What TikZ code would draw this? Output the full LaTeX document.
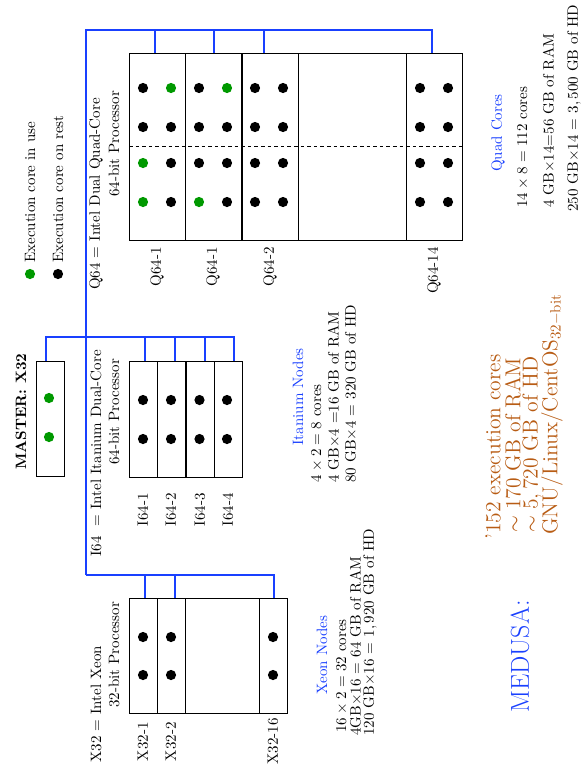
\documentclass[tikz,border=0pt]{standalone}
\usepackage{amsmath}
\definecolor{busblue}{rgb}{0.1,0.25,1}
\definecolor{usegreen}{rgb}{0,0.6,0}
\definecolor{sumorange}{rgb}{0.72,0.36,0.08}
\begin{document}
\begin{tikzpicture}[x=0.6667pt,y=-0.6667pt,
 box/.style={draw, line width=0.6pt, inner sep=0pt, outer sep=0pt},
 dotk/.style={circle, fill=black, inner sep=0pt, minimum size=6.8pt},
 dotg/.style={circle, fill=usegreen, inner sep=0pt, minimum size=6.8pt},
 bus/.style={draw=busblue, line width=1.3pt},
 txt/.style={rotate=90, inner sep=0pt, anchor=west},
 lbl/.style={rotate=90, inner sep=0pt, anchor=east},
 ctr/.style={rotate=90, inner sep=0pt, anchor=center}]
\useasboundingbox (0,0) rectangle (581,764);

% ---------- X32 boxes
\node[box, minimum width=18.67pt, minimum height=76.67pt] (x1) at (143,655.5) {};
\node[box, minimum width=18.67pt, minimum height=76.67pt] (x2) at (171,655.5) {};
\node[box, minimum width=49.33pt, minimum height=76.67pt] (xe) at (222,655.5) {};
\node[box, minimum width=18.67pt, minimum height=76.67pt] (x16) at (273,655.5) {};
\foreach \px [count=\i] in {143,171,273} {
  \node[dotk] (xa\i) at (\px,637) {};
  \node[dotk] (xb\i) at (\px,675) {};
}
% ---------- Master
\node[box, minimum width=18.67pt, minimum height=76.67pt] (m) at (50,418.5) {};
\node[dotg] (md1) at (49,398) {};
\node[dotg] (md2) at (49,437) {};
% ---------- I64 boxes
\node[box, minimum width=18.67pt, minimum height=77.33pt] (i1) at (143,419) {};
\node[box, minimum width=18.67pt, minimum height=77.33pt] (i2) at (171,419) {};
\node[box, minimum width=18.67pt, minimum height=77.33pt] (i3) at (200.5,419) {};
\node[box, minimum width=18.67pt, minimum height=77.33pt] (i4) at (228,419) {};
\foreach \px [count=\i] in {143,171,199.5,227} {
  \node[dotk] (ia\i) at (\px,400) {};
  \node[dotk] (ib\i) at (\px,439) {};
}
% ---------- Q64 boxes
\node[box, minimum width=37.33pt, minimum height=124.67pt] (q1) at (157,146.5) {};
\node[box, minimum width=37.33pt, minimum height=124.67pt] (q1b) at (213.5,146.5) {};
\node[box, minimum width=37.33pt, minimum height=124.67pt] (q2) at (270,146.5) {};
\node[box, minimum width=72pt, minimum height=124.67pt] (qe) at (352,146.5) {};
\node[box, minimum width=37.33pt, minimum height=124.67pt] (q14) at (434,146.5) {};
\draw[dash pattern=on 2.4pt off 2pt, line width=0.5pt] (q1.west) -- (q14.east);
% dots of Q64 (k = black, g = green)
\foreach \px/\py/\c [count=\i] in {
  143/88/dotk,171/88/dotg,143/127/dotk,171/127/dotk,143/163/dotg,171/163/dotk,143/202/dotg,171/202/dotk,
  199/88/dotk,227/88/dotg,199/127/dotk,227/127/dotk,199/163/dotk,227/163/dotk,199/202/dotg,227/202/dotk,
  255/88/dotk,283/88/dotk,255/127/dotk,283/127/dotk,255/163/dotk,283/163/dotk,255/202/dotk,283/202/dotk,
  420/88/dotk,448/88/dotk,420/127/dotk,448/127/dotk,420/163/dotk,448/163/dotk,420/202/dotk,448/202/dotk} {
  \node[\c] (qd\i) at (\px,\py) {};
}

% ---------- buses
\coordinate (busTop) at (86,30);
\coordinate (busBot) at (86,575);
\coordinate (busQR) at (432,30);
\coordinate (busXR) at (274,575);
\coordinate (busIL) at (46,337);
\coordinate (busIR) at (234,337);
\coordinate (qt1) at (155,30);
\coordinate (qt2) at (214,30);
\coordinate (qt3) at (264,30);
\coordinate (xt1) at (145,575);
\coordinate (xt2) at (175,575);
\coordinate (it1) at (145,337);
\coordinate (it2) at (175,337);
\coordinate (it3) at (205,337);
\draw[bus] (busBot) -- (busTop) -- (busQR) -- (busQR |- q14.north);
\draw[bus] (busBot) -- (busXR) -- (busXR |- x16.north);
\draw[bus] (busIL |- m.north) -- (busIL) -- (busIR) -- (busIR |- i4.north);
\draw[bus] (qt1) -- (qt1 |- q1.north);
\draw[bus] (qt2) -- (qt2 |- q1b.north);
\draw[bus] (qt3) -- (qt3 |- q2.north);
\draw[bus] (xt1) -- (xt1 |- x1.north);
\draw[bus] (xt2) -- (xt2 |- x2.north);
\draw[bus] (it1) -- (it1 |- i1.north);
\draw[bus] (it2) -- (it2 |- i2.north);
\draw[bus] (it3) -- (it3 |- i3.north);

% ---------- headings
\node[txt, font=\bfseries] (master) at (21,470) {MASTER: X32};
\node[txt] (hx1) at (96,763) {X32 = Intel Xeon};
\node[txt] (hx2) at (114,708) {32-bit Processor};
\node[txt] (hi1) at (96,557) {I64~~= Intel Itanium Dual-Core};
\node[txt] (hi2) at (114,465) {64-bit Processor};
\node[txt] (hq1) at (96,290) {Q64 = Intel Dual Quad-Core};
\node[txt] (hq2) at (114,197) {64-bit Processor};

% ---------- row labels
\node[lbl] (lx1) at (143,722) {X32-1};
\node[lbl] (lx2) at (171,722) {X32-2};
\node[lbl] (lx16) at (273,718) {X32-16};
\node[lbl] (li1) at (143,493) {I64-1};
\node[lbl] (li2) at (171,493) {I64-2};
\node[lbl] (li3) at (200,493) {I64-3};
\node[lbl] (li4) at (228,493) {I64-4};
\node[lbl] (lq1) at (157,247) {Q64-1};
\node[lbl] (lq1b) at (213,247) {Q64-1};
\node[lbl] (lq2) at (270,247) {Q64-2};
\node[lbl] (lq14) at (434,247) {Q64-14};

% ---------- legend
\node[dotg] (lg1) at (30,274) {};
\node[txt] (lgt1) at (30,263) {Execution core in use};
\node[dotk] (lg2) at (58,274) {};
\node[txt] (lgt2) at (58,263) {Execution core on rest};

% ---------- Xeon stats
\node[ctr, text=busblue] (xn) at (322,655) {Xeon Nodes};
\node[txt] (xs1) at (342,733) {$16\times2=32$ cores};
\node[txt] (xs2) at (356,736) {4GB$\times$16 = 64 GB of RAM};
\node[txt] (xs3) at (370,736) {120 GB$\times$16 = $1,920$ GB of HD};

% ---------- Itanium stats
\node[ctr, text=busblue] (in) at (298,397) {Itanium Nodes};
\node[txt] (is1) at (317,483) {$4\times2=8$ cores};
\node[txt] (is2) at (334,483) {4 GB$\times$4 =16 GB of RAM};
\node[txt] (is3) at (351,483) {80 GB$\times$4 = 320 GB of HD};

% ---------- Quad stats
\node[ctr, text=busblue] (qn) at (498,133) {Quad Cores};
\node[txt] (qs1) at (523,208) {$14\times8=112$ cores};
\node[txt] (qs2) at (549,208) {4 GB$\times$14=56 GB of RAM};
\node[txt] (qs3) at (574,212) {250 GB$\times$14 = $3,500$ GB of HD};

% ---------- summary
\node[txt, text=sumorange, font=\Large] (s1) at (493,540) {'152 execution cores};
\node[txt, text=sumorange, font=\Large] (s2) at (513,533) {$\sim170$ GB of RAM};
\node[txt, text=sumorange, font=\Large] (s3) at (532,533) {$\sim5,720$ GB of HD};
\node[txt, text=sumorange, font=\Large] (s4) at (552,535) {GNU/Linux/CentOS$_{32-\mathrm{bit}}$};

\node[txt, text=busblue, font=\LARGE] (med) at (520,713) {MEDUSA:};
\end{tikzpicture}
\end{document}
